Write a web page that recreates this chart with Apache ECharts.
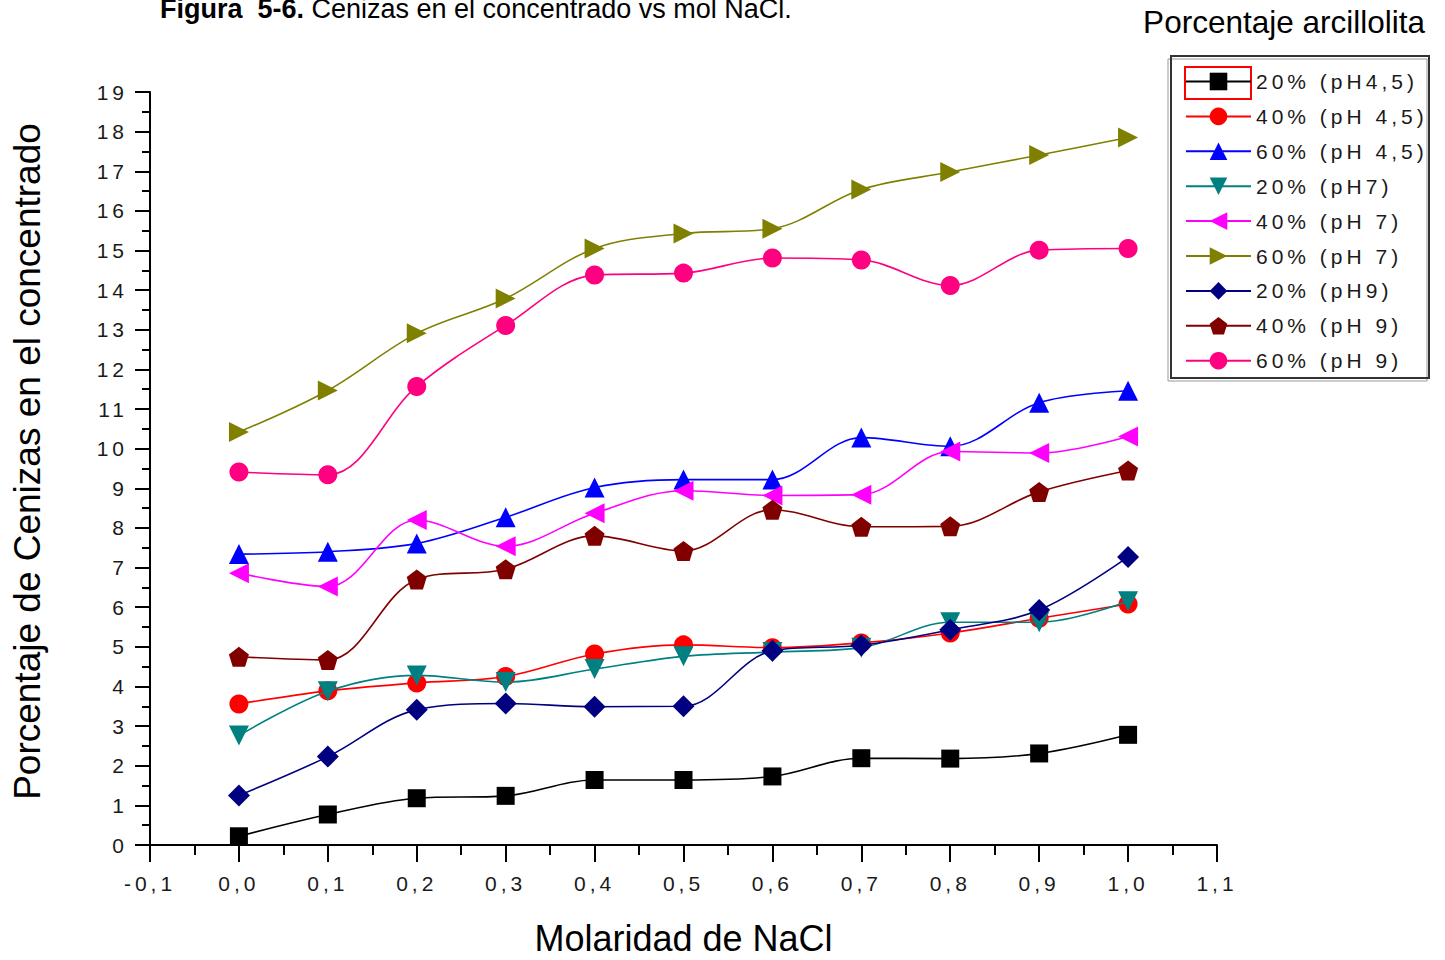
<!DOCTYPE html>
<html>
<head>
<meta charset="utf-8">
<script src="https://cdn.jsdelivr.net/npm/echarts@6/dist/echarts.min.js"></script>
<style>
  html, body { margin: 0; padding: 0; background: #fff; }
  #chart { width: 1445px; height: 960px; }
  text[style*="Arial"], text[font-family*="Arial"] { letter-spacing: 4px; }
</style>
</head>
<body>
<div id="chart"></div>
<script>
// ---- data ----
const molarity = [0.0, 0.1, 0.2, 0.3, 0.4, 0.5, 0.6, 0.7, 0.8, 0.9, 1.0];
const seriesNames = ['20% (pH4,5)', '40% (pH 4,5)', '60% (pH 4,5)', '20% (pH7)', '40% (pH 7)', '60% (pH 7)', '20% (pH9)', '40% (pH 9)', '60% (pH 9)'];
const s20pH45 = [0.22, 0.77, 1.18, 1.24, 1.64, 1.64, 1.73, 2.19, 2.18, 2.31, 2.78];
const s40pH45 = [3.56, 3.89, 4.09, 4.25, 4.82, 5.05, 4.98, 5.1, 5.35, 5.72, 6.08];
const s60pH45 = [7.34, 7.4, 7.61, 8.27, 9.02, 9.22, 9.22, 10.28, 10.06, 11.16, 11.46];
const s20pH7 = [2.76, 3.88, 4.28, 4.11, 4.44, 4.76, 4.87, 4.98, 5.62, 5.62, 6.15];
const s40pH7 = [6.86, 6.52, 8.2, 7.54, 8.37, 8.94, 8.82, 8.84, 9.93, 9.89, 10.31];
const s60pH7 = [10.42, 11.47, 12.91, 13.79, 15.05, 15.43, 15.55, 16.54, 16.98, 17.41, 17.85];
const s20pH9 = [1.25, 2.23, 3.41, 3.57, 3.49, 3.5, 4.9, 5.04, 5.43, 5.93, 7.27];
const s40pH9 = [4.75, 4.67, 6.7, 6.96, 7.8, 7.42, 8.46, 8.03, 8.04, 8.91, 9.45];
const s60pH9 = [9.41, 9.34, 11.57, 13.11, 14.38, 14.43, 14.81, 14.76, 14.12, 15.01, 15.05];
const yTicksMin = 0, yTicksMax = 19;
const xTicksMin = -0.1, xTicksMax = 1.1;

const seriesValues = [s20pH45, s40pH45, s60pH45, s20pH7, s40pH7, s60pH7, s20pH9, s40pH9, s60pH9];
const colors = ['#000000', '#ff0000', '#0000ff', '#008080', '#ff00ff', '#808000', '#000080', '#800000', '#ff0080'];
const pentagon = 'path://M0,-10 L9.51,-3.09 L5.88,8.09 L-5.88,8.09 L-9.51,-3.09 Z';
const symbols = ['rect', 'circle', 'triangle', 'triangle', 'triangle', 'triangle', 'diamond', pentagon, 'circle'];
const rotations = [0, 0, 0, 180, 90, -90, 0, 0, 0];
const sizes = [18, 19, 20, 20, 20, 20, 22, 20, 19];

const fmt = v => (Math.abs(v) < 1e-9 ? 0 : v).toFixed(1).replace('.', ',');

const series = seriesNames.map((name, i) => ({
  name: name,
  type: 'line',
  data: molarity.map((x, j) => [x, seriesValues[i][j]]),
  smooth: 0.35,
  symbol: symbols[i],
  symbolRotate: rotations[i],
  symbolSize: sizes[i],
  showAllSymbol: true,
  color: colors[i],
  lineStyle: { width: 1.6, color: colors[i] },
  itemStyle: { color: colors[i], borderWidth: 0 },
  emphasis: { disabled: true },
  z: 2 + i
}));

const chart = echarts.init(document.getElementById('chart'), null, { renderer: 'svg' });
chart.setOption({
  backgroundColor: '#ffffff',
  animation: false,
  title: [
    {
      text: '{b|Figura  5-6.} Cenizas en el concentrado vs mol NaCl.',
      left: 160, top: -5, padding: 0,
      textStyle: {
        fontFamily: 'Liberation Sans', fontSize: 27, fontWeight: 'normal', color: '#000',
        rich: { b: { fontFamily: 'Liberation Sans', fontSize: 27, fontWeight: 'bold', color: '#000' } }
      }
    },
    {
      text: 'Porcentaje arcillolita',
      right: 20, top: 6, padding: 0,
      textStyle: { fontFamily: 'Liberation Sans', fontSize: 31.5, fontWeight: 'normal', color: '#000' }
    }
  ],
  legend: {
    orient: 'vertical',
    left: 1185, top: 71,
    padding: 0,
    itemWidth: 65, itemHeight: 22, itemGap: 13.9,
    data: seriesNames,
    textStyle: { fontFamily: 'Arial', fontSize: 21, color: '#1a1a1a' },
    selectedMode: false
  },
  grid: { left: 150, right: 228, top: 92, bottom: 115, containLabel: false, outerBoundsMode: 'none' },
  xAxis: {
    type: 'value',
    min: xTicksMin, max: xTicksMax, interval: 0.1,
    name: 'Molaridad de NaCl', nameLocation: 'middle', nameGap: 75,
    nameTextStyle: { fontFamily: 'Liberation Sans', fontSize: 36, color: '#000' },
    axisLine: { show: true, onZero: false, lineStyle: { color: '#000', width: 2 } },
    axisTick: { show: true, inside: false, length: 17, lineStyle: { color: '#000', width: 2 } },
    minorTick: { show: true, splitNumber: 2, length: 10, lineStyle: { color: '#000', width: 2 } },
    splitLine: { show: false },
    axisLabel: { margin: 28, fontFamily: 'Arial', fontSize: 21, color: '#1a1a1a', formatter: fmt }
  },
  yAxis: {
    type: 'value',
    min: yTicksMin, max: yTicksMax, interval: 1,
    name: 'Porcentaje de Cenizas en el concentrado', nameLocation: 'middle', nameGap: 104,
    nameTextStyle: { fontFamily: 'Liberation Sans', fontSize: 37, color: '#000', padding: [0, 0, 0, 14] },
    axisLine: { show: true, onZero: false, lineStyle: { color: '#000', width: 2 } },
    axisTick: { show: true, inside: false, length: 15, lineStyle: { color: '#000', width: 2 } },
    minorTick: { show: true, splitNumber: 2, length: 8, lineStyle: { color: '#000', width: 2 } },
    splitLine: { show: false },
    axisLabel: { margin: 22, fontFamily: 'Arial', fontSize: 21, color: '#1a1a1a' }
  },
  graphic: [
    { type: 'rect', shape: { x: 1168, y: 59, width: 259, height: 322 }, style: { fill: 'none', stroke: '#999', lineWidth: 1 }, z: 0, silent: true },
    { type: 'rect', shape: { x: 1171, y: 56, width: 258, height: 322 }, style: { fill: 'none', stroke: '#333', lineWidth: 2 }, z: 1, silent: true },
    { type: 'rect', shape: { x: 1185, y: 67, width: 66, height: 32 }, style: { fill: 'none', stroke: '#ff0000', lineWidth: 2 }, z: 1, silent: true }
  ],
  series: series
});
</script>
</body>
</html>
